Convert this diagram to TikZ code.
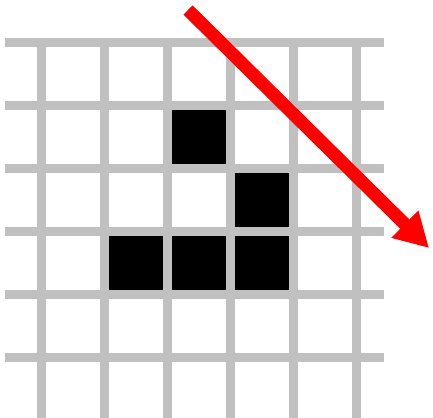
\documentclass[tikz,border=0pt]{standalone}
\usepackage{tikz}
\usetikzlibrary{positioning,arrows.meta}
\definecolor{gridGray}{RGB}{192,192,192}
\definecolor{moveRed}{RGB}{255,0,0}

\begin{document}
\begin{tikzpicture}[
    x=0.02cm, y=-0.02cm,
    grid line/.style={draw=gridGray, line width=0.18cm},
    live cell/.style={rectangle, fill=black, inner sep=0pt, minimum size=1.26cm},
    move arrow/.style={draw=moveRed, line width=0.26cm, -{Triangle[length=0.68cm, width=0.72cm]}}
]
  \useasboundingbox (0,0) rectangle (433,418);

  % glider cells
  \node[live cell] (c21) at (199,137) {};
  \node[live cell] (c32) at (262,200) {};
  \node[live cell] (c13) at (136,263) {};
  \node[live cell] (c23) at (199,263) {};
  \node[live cell] (c33) at (262,263) {};

  % grid
  \foreach \k in {0,...,5} {
    \draw[grid line] (5,42.5+63*\k) -- (384,42.5+63*\k);
    \draw[grid line] (41.5+63*\k,38) -- (41.5+63*\k,418);
  }

  % direction of travel
  \coordinate (start) at (188,10);
  \coordinate (tip) at (429,248);
  \draw[move arrow] (start) -- (tip);
\end{tikzpicture}
\end{document}
